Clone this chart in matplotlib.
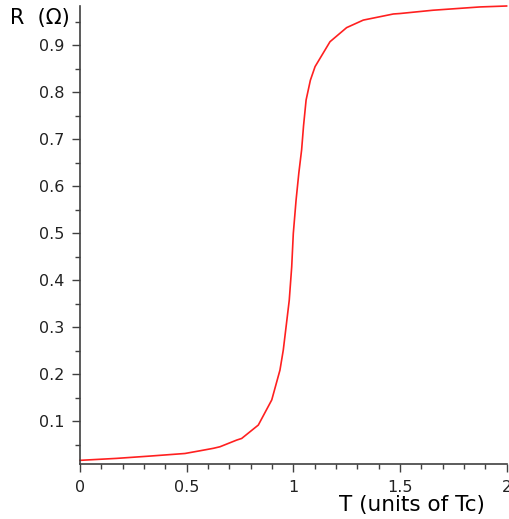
import matplotlib.pyplot as plt

# Resistance vs temperature
T = [0.0, 0.172, 0.328, 0.492, 0.563, 0.625, 0.656, 0.735, 0.758, 0.836,
     0.899, 0.9375, 0.953, 0.966, 0.981, 0.9925, 1.0, 1.013, 1.026, 1.039,
     1.048, 1.06, 1.08, 1.102, 1.172, 1.25, 1.328, 1.469, 1.5, 1.655, 1.875, 2.0]
R = [0.0164, 0.0206, 0.0255, 0.031, 0.0368, 0.042, 0.0453, 0.0596, 0.063, 0.0915,
     0.145, 0.2085, 0.251, 0.300, 0.357, 0.428, 0.499, 0.570, 0.628, 0.677,
     0.728, 0.783, 0.825, 0.854, 0.907, 0.937, 0.953, 0.966, 0.967, 0.974, 0.981, 0.983]

xticks = [0, 0.5, 1, 1.5, 2]
xticklabels = ['0', '0.5', '1', '1.5', '2']
yticks = [0.1, 0.2, 0.3, 0.4, 0.5, 0.6, 0.7, 0.8, 0.9]

W, H = 509, 519
fig = plt.figure(figsize=(W / 100, H / 100), dpi=100)
ax = fig.add_axes([80 / W, 1 - 464.3 / H, 426.6 / W, (464.3 - 6) / H])

ax.plot(T, R, color='#ff2020', lw=1.2, clip_on=False)

ax.set_xlim(0, 2)
ax.set_ylim(0.008, 0.983)

ax.set_xticks(xticks)
ax.set_xticklabels(xticklabels)
ax.set_xticks([i / 10 for i in range(21)], minor=True)
ax.set_yticks(yticks)
ax.set_yticklabels([str(v) for v in yticks])
ax.set_yticks([0.05 + 0.1 * i for i in range(10)], minor=True)

axis_col = '#404040'
for s in ['top', 'right']:
    ax.spines[s].set_visible(False)
for s in ['left', 'bottom']:
    ax.spines[s].set_color(axis_col)
    ax.spines[s].set_linewidth(1.2)

ax.tick_params(which='major', length=6, width=1, color=axis_col,
               labelsize=11.5, labelcolor='#222222', pad=5)
ax.tick_params(which='minor', length=3.5, width=1, color=axis_col)

fig.text(10 / W, 1 - 18 / H, 'R  (\u03a9)', fontsize=15, ha='left', va='center')
fig.text(412 / W, 1 - 505 / H, 'T (units of Tc)', fontsize=15.5, ha='center', va='center')

fig.savefig('out.png', dpi=100)
